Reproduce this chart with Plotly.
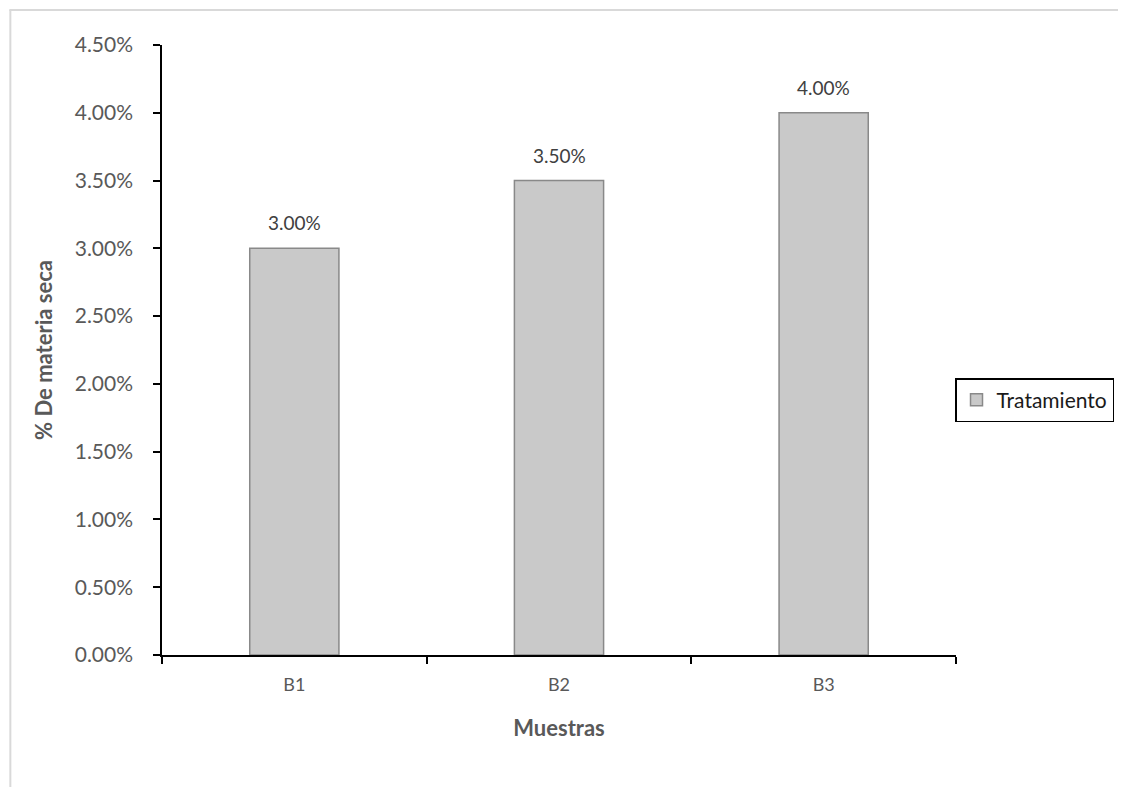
import plotly.graph_objects as go

categories = ["B1", "B2", "B3"]
values = [0.030, 0.035, 0.040]
labels = ["3.00%", "3.50%", "4.00%"]
series_name = "Tratamiento"

# page is offset by the 8px body margin
W, H = 1118, 779
L, T = 154, 37
R = W - 955
B = H - 647
font_family = "Lato, 'Open Sans', sans-serif"

fig = go.Figure()
fig.add_trace(go.Bar(
    x=categories, y=values, name=series_name,
    marker=dict(color="#C9C9C9", line=dict(color="#898989", width=1.5)),
    width=0.337,
))

for c, v, t in zip(categories, values, labels):
    fig.add_annotation(
        x=c, y=v, text=t, showarrow=False, yanchor="bottom", yshift=12,
        font=dict(size=19, color="#404040", family=font_family),
    )

pw = W - L - R
ph = H - T - B
def px(x):
    return (x - L) / pw
def py(y):
    return (H - B - y) / ph

fig.update_layout(
    width=W, height=H,
    margin=dict(l=L, r=R, t=T, b=B),
    paper_bgcolor="white", plot_bgcolor="white",
    showlegend=True,
    legend=dict(
        x=px(954), y=py(392), xanchor="left", yanchor="middle",
        bordercolor="black", borderwidth=1.5,
        font=dict(size=21, color="#1a1a1a", family=font_family),
        bgcolor="white", itemwidth=30,
    ),
    xaxis=dict(
        type="category", showline=True, linecolor="black", linewidth=1.5,
        ticks="outside", tickson="boundaries", ticklen=7, tickcolor="black", tickwidth=1.5,
        tickfont=dict(size=18, color="#595959", family=font_family),
        ticklabelstandoff=13,
        title=dict(text="<b>Muestras</b>", font=dict(size=22, color="#595959", family=font_family), standoff=26),
        showgrid=False, zeroline=False,
    ),
    yaxis=dict(
        range=[0, 0.045], dtick=0.005, tickformat=".2%",
        showline=True, linecolor="black", linewidth=1.5,
        ticks="outside", ticklen=7, tickcolor="black", tickwidth=1.5,
        tickfont=dict(size=21, color="#595959", family=font_family),
        ticklabelstandoff=16,
        title=dict(text="<b>% De materia seca</b>", font=dict(size=22, color="#595959", family=font_family), standoff=16),
        showgrid=False, zeroline=False,
    ),
    shapes=[
        dict(type="line", xref="paper", yref="paper",
             x0=px(1), x1=px(1), y0=py(2), y1=py(H + 5),
             line=dict(color="#D9D9D9", width=2)),
        dict(type="line", xref="paper", yref="paper",
             x0=px(0), x1=px(W + 5), y0=py(2), y1=py(2),
             line=dict(color="#D9D9D9", width=2)),
    ],
)

fig.write_html("out.html")
